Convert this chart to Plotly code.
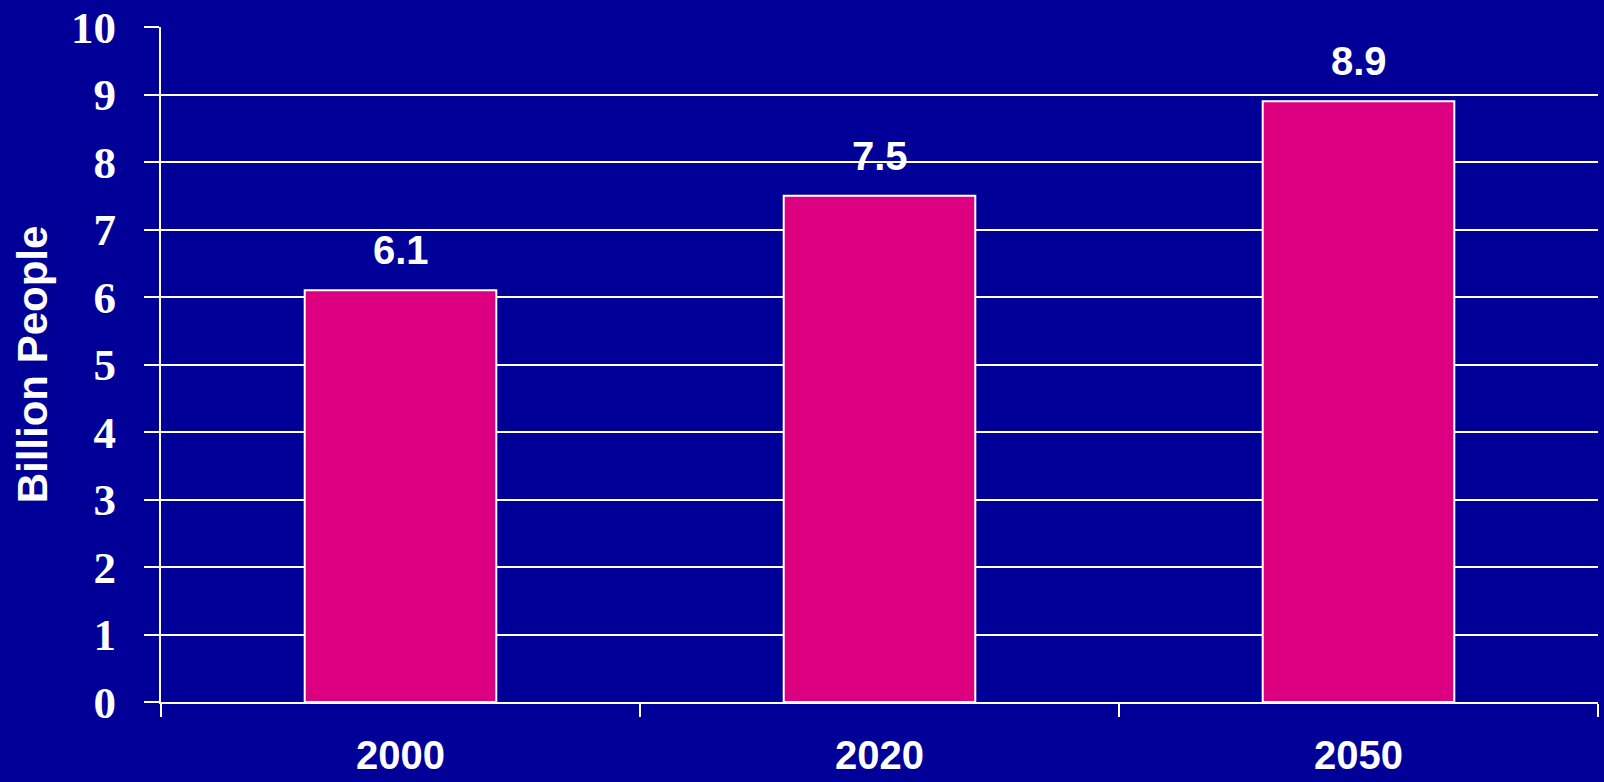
import plotly.graph_objects as go

years = ["2000", "2020", "2050"]
population = [6.1, 7.5, 8.9]
value_labels = ["6.1", "7.5", "8.9"]
y_ticks = list(range(0, 11))

BG = "#000099"
BAR = "#DC0080"
WHITE = "#FFFFFF"

fig = go.Figure()
fig.add_trace(go.Bar(
    x=years, y=population,
    marker=dict(color=BAR, line=dict(color=WHITE, width=2)),
    hoverinfo="x+y",
))

for i, (v, lab) in enumerate(zip(population, value_labels)):
    fig.add_annotation(
        x=i, y=v, text=lab, showarrow=False,
        yanchor="middle", yshift=40,
        font=dict(family="Liberation Sans, Arial", size=40, color=WHITE, weight="bold"),
    )

fig.update_layout(
    width=1604, height=782,
    paper_bgcolor=BG, plot_bgcolor=BG,
    margin=dict(l=161, r=6, t=27, b=80, autoexpand=False),
    bargap=0.6,
    showlegend=False,
    xaxis=dict(
        type="category",
        categoryorder="array", categoryarray=years,
        range=[-0.5, len(years) - 0.5],
        showline=True, linecolor=WHITE, linewidth=2,
        ticks="outside", tickson="boundaries", ticklen=13, tickwidth=2, tickcolor=WHITE,
        tickfont=dict(family="Liberation Sans, Arial", size=40, color=WHITE, weight="bold"),
        tickangle=0,
        ticklabelstandoff=17,
        showgrid=False, zeroline=False,
    ),
    yaxis=dict(
        range=[0, 10],
        tickvals=y_ticks,
        showline=True, linecolor=WHITE, linewidth=2,
        ticks="outside", ticklen=15, tickwidth=2, tickcolor=WHITE,
        tickfont=dict(family="Liberation Serif, Times New Roman", size=45, color=WHITE, weight="bold"),
        ticklabelstandoff=19,
        showgrid=True, gridcolor=WHITE, gridwidth=2,
        zeroline=False,
        title=dict(text="Billion People", standoff=10,
                   font=dict(family="Liberation Sans, Arial", size=42, color=WHITE, weight="bold")),
        automargin=False,
    ),
)

fig.write_html("out.html", config={"displayModeBar": False},
               post_script="document.body.style.margin='0';document.body.style.background='#000099';")
